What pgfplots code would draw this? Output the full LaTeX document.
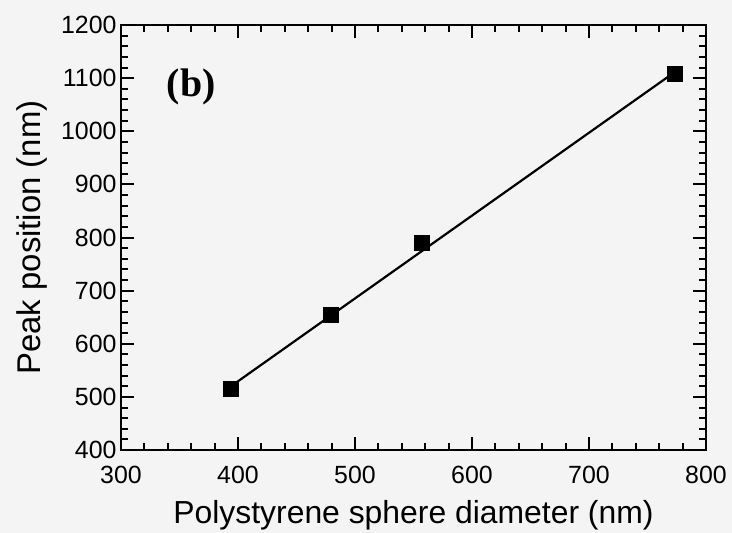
\documentclass[border=0pt]{standalone}
\usepackage{pgfplots}
\pgfplotsset{compat=1.18}
\usepackage{fontspec}
\setmainfont{Liberation Sans}
\newfontfamily\serifb{Liberation Serif}
\definecolor{bg}{RGB}{244,244,244}
\begin{document}
\begin{tikzpicture}
\path[use as bounding box, fill=bg] (-121bp,-83bp) rectangle (611bp,450bp);
\begin{axis}[
  scale only axis,
  width=585bp, height=425bp,
  xmin=300, xmax=800, ymin=400, ymax=1200,
  xtick={300,400,...,800}, ytick={400,500,...,1200},
  minor tick num=4,
  tick align=inside,
  major tick length=13bp, minor tick length=7bp,
  every tick/.style={line width=2bp, black},
  axis line style={line width=2.6bp},
  tick label style={font=\fontsize{25}{28}\selectfont},
  xticklabel style={yshift=-13bp},
  yticklabel style={xshift=-1bp},
  /pgf/number format/assume math mode=true,
  /pgf/number format/1000 sep={},
  xlabel={Polystyrene sphere diameter (nm)},
  ylabel={Peak position (nm)},
  label style={font=\fontsize{32}{36}\selectfont},
  xlabel style={at={(axis description cs:0.5,-0.172)}, anchor=base},
  ylabel style={at={(axis description cs:-0.137,0.5)}, anchor=base, font=\fontsize{33}{36}\selectfont},
]
\addplot[black, line width=2.2bp] coordinates {(394,520) (773,1111)};
\addplot[only marks, mark=square*, mark size=7.5bp, black] coordinates {
(394,516) (479,655) (557,790) (773,1108)};
\node[font=\fontsize{40}{44}\selectfont\serifb\bfseries] at (axis cs:360,1083) {(b)};
\end{axis}
\end{tikzpicture}
\end{document}
